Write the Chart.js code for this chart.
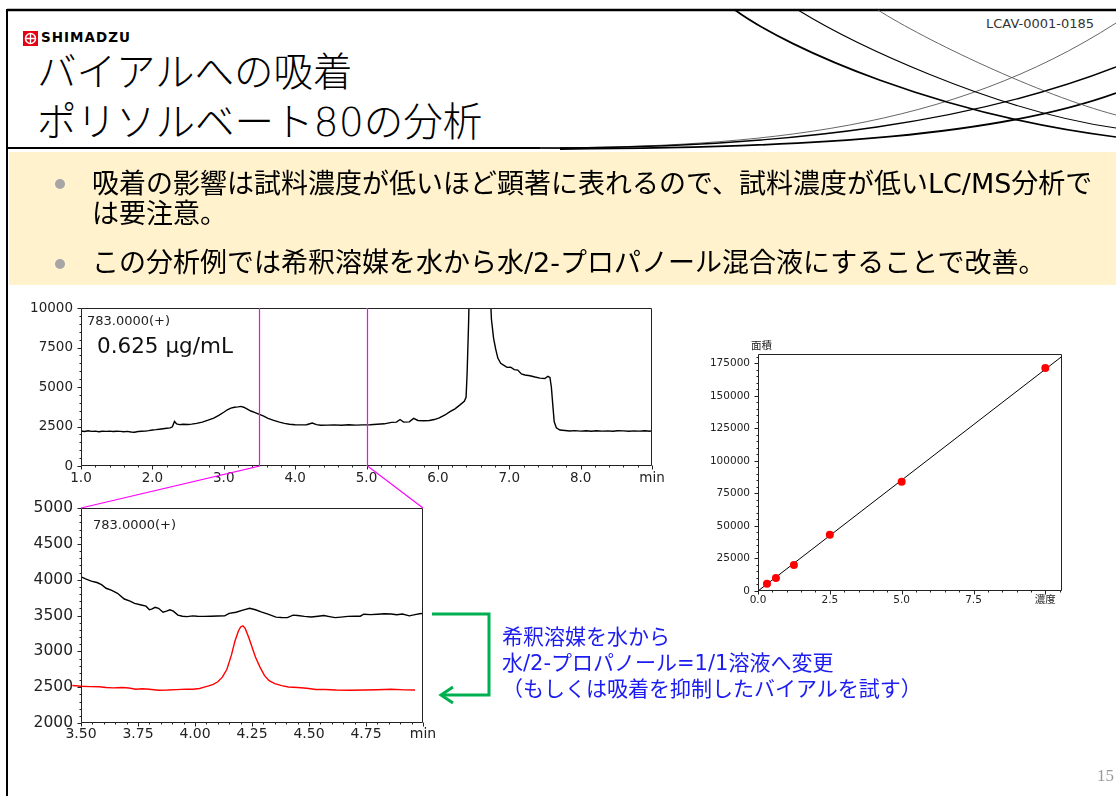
<!DOCTYPE html>
<html lang="ja">
<head>
<meta charset="utf-8">
<title>バイアルへの吸着 ポリソルベート80の分析</title>
<script src="https://cdn.jsdelivr.net/npm/chart.js@4.4.1/dist/chart.umd.min.js"></script>
<style>
  html, body { margin: 0; padding: 0; background: #fff; }
  body { position: relative; width: 1116px; height: 796px; overflow: hidden;
         font-family: "Noto Sans CJK JP", sans-serif; color: #000; }
  .t { position: absolute; white-space: nowrap; line-height: 1; }
  .lat { font-family: "DejaVu Sans", sans-serif; }
  .dv { font-family: "DejaVu Sans", sans-serif; }
  .box { position: absolute; }
  .box canvas { display: block; }
  #band { position: absolute; left: 9px; top: 152px; width: 1107px; height: 133px; background: #fff2cc; }
  #deco, #marks { position: absolute; left: 0; top: 0; }
  #guides { position: absolute; left: 0; top: 0; z-index: 4; pointer-events: none; }
  .txt { z-index: 6; }
</style>
</head>
<body>
<div id="band"></div>

<svg id="deco" width="1116" height="796">
  <g fill="none">
    <path d="M7 10 H1116" stroke="#000" stroke-width="2.5"/>
    <path d="M7 9 V796" stroke="#000" stroke-width="2"/>
    <path d="M7 148 H600" stroke="#000" stroke-width="2"/>
    <path d="M540 148 C760 147, 950 130, 1116 23" stroke="#555" stroke-width="0.9"/>
    <path d="M560 148 C800 147, 980 120, 1116 67" stroke="#000" stroke-width="1.4"/>
    <path d="M560 149 C820 148, 1000 135, 1116 93" stroke="#000" stroke-width="1.8"/>
    <path d="M735 10 C790 50, 940 115, 1116 137" stroke="#000" stroke-width="1.7"/>
    <path d="M798 10 C850 42, 990 110, 1116 128" stroke="#000" stroke-width="1.1"/>
    <path d="M878 10 C925 40, 1040 95, 1116 115" stroke="#555" stroke-width="0.9"/>
  </g>
</svg>

<svg class="box" style="left:23px;top:31px" width="15" height="15">
  <rect width="15" height="15" fill="#e60012"/>
  <circle cx="7.5" cy="7.5" r="5" fill="none" stroke="#fff" stroke-width="1.5"/>
  <path d="M7.5 2.5 V12.5 M2.5 7.5 H12.5" stroke="#fff" stroke-width="1.3"/>
</svg>
<div class="t dv" style="left:41px;top:31px;font-size:13.5px;font-weight:bold;letter-spacing:1px;">SHIMADZU</div>
<div class="t dv" style="left:986px;top:17px;font-size:13px;color:#333;">LCAV-0001-0185</div>

<div class="t" style="left:37px;top:49px;font-size:39.5px;font-weight:300;">バイアルへの吸着</div>
<div class="t" style="left:37px;top:99px;font-size:39.5px;font-weight:300;">ポリソルベート<span class="lat">80</span>の分析</div>

<svg id="marks" width="1116" height="796" style="z-index:3">
  <circle cx="60" cy="184" r="5" fill="#a6a6a6"/>
  <circle cx="60" cy="264" r="5" fill="#a6a6a6"/>
  <path d="M432 614 H489 V695 H443" stroke="#00b050" stroke-width="3" fill="none"/>
  <path d="M453 687 L441 695 L453 703" stroke="#00b050" stroke-width="3" fill="none"/>
</svg>

<div class="t txt" style="left:92px;top:168px;font-size:27px;">吸着の影響は試料濃度が低いほど顕著に表れるので、試料濃度が低い<span class="lat">LC/MS</span>分析で</div>
<div class="t txt" style="left:92px;top:198px;font-size:27px;">は要注意。</div>
<div class="t txt" style="left:92px;top:247px;font-size:27px;">この分析例では希釈溶媒を水から水<span class="lat">/2-</span>プロパノール混合液にすることで改善。</div>

<div class="box" style="left:21px;top:288px"><canvas id="fullRun" width="661" height="206"></canvas></div>
<div class="box" style="left:21px;top:488px"><canvas id="zoomRun" width="432" height="263"></canvas></div>
<div class="box" style="left:698px;top:334px"><canvas id="calib" width="394" height="281"></canvas></div>
<canvas id="guides" width="1116" height="796"></canvas>

<div class="t dv txt" style="left:87px;top:314px;font-size:13px;color:#222;">783.0000(+)</div>
<div class="t dv txt" style="left:97px;top:335px;font-size:21.5px;color:#111;">0.625 µg/mL</div>
<div class="t dv txt" style="left:93px;top:518px;font-size:13px;color:#222;">783.0000(+)</div>
<div class="t txt" style="left:751px;top:340px;font-size:10.5px;color:#222;">面積</div>

<div class="t txt" style="left:502px;top:625px;font-size:21px;color:#1c1cf0;">希釈溶媒を水から</div>
<div class="t txt" style="left:502px;top:651px;font-size:21px;color:#1c1cf0;">水<span class="lat">/2-</span>プロパノール<span class="lat">=1/1</span>溶液へ変更</div>
<div class="t txt" style="left:502px;top:677px;font-size:21px;color:#1c1cf0;">（もしくは吸着を抑制したバイアルを試す）</div>

<div class="t txt" style="left:1097px;top:767px;font-size:17px;color:#999;font-family:'Liberation Serif',serif;">15</div>

<script>
// m/z 783 chromatogram, 0.625 µg/mL, water as diluent (full run)
const runTime = [1.00,1.05,1.10,1.15,1.20,1.25,1.30,1.35,1.40,1.45,1.50,1.55,1.60,1.65,1.70,1.75,1.80,1.85,1.90,1.95,
  2.00,2.05,2.10,2.15,2.20,2.25,2.28,2.31,2.34,2.38,2.43,2.50,2.55,2.62,2.70,2.78,2.86,2.93,
  3.00,3.05,3.10,3.15,3.20,3.24,3.28,3.33,3.38,3.43,3.50,3.56,3.62,3.70,3.78,3.85,3.92,
  4.00,4.08,4.16,4.24,4.30,4.36,4.45,4.55,4.65,4.75,4.85,4.95,
  5.05,5.15,5.25,5.35,5.42,5.47,5.52,5.60,5.66,5.72,5.80,5.88,5.95,
  6.02,6.10,6.17,6.24,6.31,6.37,6.395,6.41,6.43,6.45,6.55,6.65,6.72,6.75,6.78,6.81,6.84,6.88,6.92,6.97,
  7.02,7.07,7.12,7.17,7.22,7.29,7.36,7.43,7.50,7.54,7.57,7.59,7.61,7.63,7.66,7.71,7.78,7.85,7.92,
  8.00,8.08,8.15,8.22,8.30,8.38,8.45,8.52,8.60,8.68,8.75,8.82,8.90,8.97,9.00];
const runIntensity = [2220,2180,2230,2190,2210,2170,2200,2190,2210,2180,2200,2190,2170,2190,2150,2140,2180,2200,2210,2240,
  2280,2300,2330,2360,2390,2410,2480,2820,2660,2620,2640,2630,2650,2700,2780,2900,3030,3200,
  3400,3560,3660,3720,3740,3770,3720,3600,3480,3390,3270,3150,3020,2890,2780,2700,2640,
  2610,2600,2610,2720,2620,2580,2590,2600,2580,2610,2590,2600,
  2610,2640,2670,2760,2780,2940,2780,2790,3010,2880,2860,2880,2940,
  3050,3230,3440,3620,3870,4100,4350,5900,9000,13000,30000,26000,12500,9300,8100,7400,6830,6500,6380,6240,
  6250,6100,6070,5830,5760,5710,5630,5560,5540,5680,5600,5000,3870,2800,2420,2280,2250,2220,2240,
  2210,2230,2200,2230,2210,2220,2200,2230,2220,2200,2220,2210,2230,2200,2240];
const runTicksX = [1, 2, 3, 4, 5, 6, 7, 8, 9];
const runLabelsX = ['1.0', '2.0', '3.0', '4.0', '5.0', '6.0', '7.0', '8.0', 'min'];
const runTicksY = [0, 2500, 5000, 7500, 10000];

// enlarged window of the run
const zoomWindow = [3.5, 5.0];

// diluent: water
const waterTime = [3.500,3.520,3.545,3.570,3.590,3.610,3.635,3.660,3.690,3.715,3.735,3.760,3.785,3.800,3.810,3.825,3.840,3.860,3.875,3.890,
  3.905,3.925,3.945,3.965,3.990,4.010,4.040,4.070,4.100,4.130,4.150,4.180,4.210,4.240,4.265,4.290,4.320,4.355,4.380,4.405,
  4.430,4.450,4.480,4.510,4.540,4.565,4.590,4.615,4.640,4.670,4.700,4.725,4.740,4.770,4.800,4.830,4.860,4.885,4.910,4.940,
  4.965,4.985,5.000];
const waterTrace = [4040,4010,3980,3960,3930,3880,3850,3810,3730,3700,3670,3650,3630,3580,3590,3615,3600,3545,3560,3580,
  3560,3505,3490,3485,3495,3490,3488,3490,3492,3495,3530,3545,3575,3600,3580,3550,3520,3478,3472,3470,
  3505,3500,3488,3480,3490,3500,3485,3470,3478,3488,3490,3490,3518,3512,3518,3525,3520,3510,3520,3495,
  3512,3525,3530];

// diluent: water / 2-propanol = 1/1
const ipaTime = [3.462,3.500,3.540,3.580,3.610,3.640,3.680,3.710,3.740,3.770,3.800,3.840,3.880,3.920,3.960,3.990,
  4.020,4.040,4.060,4.080,4.100,4.120,4.140,4.160,4.175,4.190,4.200,4.210,4.220,4.235,4.250,4.265,4.285,4.305,4.325,
  4.350,4.380,4.410,4.450,4.490,4.530,4.570,4.620,4.680,4.740,4.800,4.860,4.920,4.965];
const ipaTrace = [2523,2512,2508,2505,2495,2490,2496,2488,2472,2478,2470,2458,2460,2465,2472,2470,
  2482,2500,2518,2540,2575,2640,2750,2950,3140,3280,3340,3355,3320,3200,3060,2920,2780,2660,2590,
  2550,2522,2503,2495,2485,2468,2468,2460,2457,2460,2463,2470,2462,2460];
const zoomTicksX = [3.5, 3.75, 4.0, 4.25, 4.5, 4.75, 5.0];
const zoomLabelsX = ['3.50', '3.75', '4.00', '4.25', '4.50', '4.75', 'min'];
const zoomTicksY = [2000, 2500, 3000, 3500, 4000, 4500, 5000];

// calibration
const concLevels = [0.3125, 0.625, 1.25, 2.5, 5.0, 10.0];
const peakAreas = [5600, 10000, 20000, 43300, 84000, 171500];
const fitConc = [0, 10.6];
const fitArea = [0, 180800];
const calibTicksX = [0, 2.5, 5.0, 7.5, 10.0];
const calibLabelsX = ['0.0', '2.5', '5.0', '7.5', '濃度'];
const calibTicksY = [0, 25000, 50000, 75000, 100000, 125000, 150000, 175000];

Chart.defaults.font.family = "'DejaVu Sans', 'Noto Sans CJK JP', sans-serif";
Chart.defaults.color = '#222';

const toXY = (xs, ys) => xs.map((x, i) => ({ x, y: ys[i] }));

// box frame with major/minor tick marks outside the plot area
const frameTicks = {
  id: 'frameTicks',
  afterDraw(chart, _args, o) {
    const { ctx, chartArea: a } = chart;
    const xs = chart.scales.x, ys = chart.scales.y;
    const L = Math.round(a.left) + 0.5, R = Math.round(a.right) - 0.5;
    const T = Math.round(a.top) + 0.5, B = Math.round(a.bottom) - 0.5;
    const mx = xs.ticks.map(t => t.value), my = ys.ticks.map(t => t.value);
    const isMajor = (list, v, step) => list.some(m => Math.abs(m - v) < step * 1e-3);
    ctx.save();
    ctx.strokeStyle = o.color || '#222';
    ctx.lineWidth = 1;
    ctx.beginPath();
    ctx.rect(L, T, R - L, B - T);
    const nx = Math.floor((xs.max - xs.min) / o.xMinor + 1e-6);
    for (let i = 0; i <= nx; i++) {
      const v = xs.min + i * o.xMinor;
      const px = Math.round(xs.getPixelForValue(v)) + 0.5;
      const len = isMajor(mx, v, o.xMinor) ? o.major : o.minor;
      ctx.moveTo(px, B); ctx.lineTo(px, B + len);
    }
    const ny = Math.floor((ys.max - ys.min) / o.yMinor + 1e-6);
    for (let i = 0; i <= ny; i++) {
      const v = ys.min + i * o.yMinor;
      const py = Math.round(ys.getPixelForValue(v)) + 0.5;
      const len = isMajor(my, v, o.yMinor) ? o.major : o.minor;
      ctx.moveTo(L, py); ctx.lineTo(L - len, py);
    }
    ctx.stroke();
    ctx.restore();
  }
};

function axisX(min, max, values, labels, size, pad, height) {
  return {
    type: 'linear', min, max,
    grid: { display: false, drawTicks: false },
    border: { display: false },
    afterBuildTicks(s) { s.ticks = values.map(value => ({ value })); },
    ticks: { autoSkip: false, maxRotation: 0, padding: pad, font: { size }, color: '#222',
             callback: (v, i) => labels[i] },
    afterFit(s) { s.height = height; }
  };
}
function axisY(min, max, values, size, width) {
  return {
    type: 'linear', min, max,
    grid: { display: false, drawTicks: false },
    border: { display: false },
    afterBuildTicks(s) { s.ticks = values.map(value => ({ value })); },
    ticks: { autoSkip: false, padding: 8, font: { size }, color: '#222',
             callback: (v, i) => String(values[i]) },
    afterFit(s) { s.width = width; }
  };
}
function baseOptions(frame) {
  return {
    responsive: false, animation: false, devicePixelRatio: 1,
    layout: { padding: { top: 20, right: 30, bottom: 0, left: 0 } },
    plugins: { legend: { display: false }, tooltip: { enabled: false }, frameTicks: frame },
    elements: { point: { radius: 0 }, line: { tension: 0 } }
  };
}

const fullChart = new Chart(document.getElementById('fullRun'), {
  type: 'line',
  data: { datasets: [{ data: toXY(runTime, runIntensity), borderColor: '#000', borderWidth: 1.4 }] },
  options: Object.assign(baseOptions({ xMinor: 0.2, yMinor: 500, major: 4, minor: 2, color: '#222' }), {
    scales: {
      x: axisX(1, 9, runTicksX, runLabelsX, 13.5, 4, 28),
      y: axisY(0, 10000, runTicksY, 13.5, 60)
    }
  }),
  plugins: [frameTicks]
});

const zoomChart = new Chart(document.getElementById('zoomRun'), {
  type: 'line',
  data: { datasets: [
    { data: toXY(waterTime, waterTrace), borderColor: '#000', borderWidth: 1.4 },
    { data: toXY(ipaTime, ipaTrace), borderColor: '#ff0000', borderWidth: 1.4,
      clip: { left: 12, top: 0, right: 0, bottom: 0 } }
  ] },
  options: Object.assign(baseOptions({ xMinor: 0.05, yMinor: 100, major: 4, minor: 2, color: '#222' }), {
    scales: {
      x: axisX(zoomWindow[0], zoomWindow[1], zoomTicksX, zoomLabelsX, 14, 3, 28),
      y: axisY(2000, 5000, zoomTicksY, 15.5, 60)
    }
  }),
  plugins: [frameTicks]
});

const calibChart = new Chart(document.getElementById('calib'), {
  type: 'line',
  data: { datasets: [
    { data: toXY(concLevels, peakAreas), showLine: false, pointRadius: 4,
      pointBackgroundColor: '#ff0000', pointBorderWidth: 0 },
    { data: toXY(fitConc, fitArea), borderColor: '#000', borderWidth: 1, pointRadius: 0 }
  ] },
  options: Object.assign(baseOptions({ xMinor: 0.5, yMinor: 5000, major: 4, minor: 2, color: '#222' }), {
    scales: {
      x: axisX(0, 10.58, calibTicksX, calibLabelsX, 10.5, 3, 24),
      y: axisY(0, 182300, calibTicksY, 10.5, 60)
    }
  }),
  plugins: [frameTicks]
});

// magenta guides: window markers on the full run and connectors to the enlarged view
(function drawGuides() {
  const ctx = document.getElementById('guides').getContext('2d');
  const tb = fullChart.canvas.getBoundingClientRect();
  const bb = zoomChart.canvas.getBoundingClientRect();
  const ta = fullChart.chartArea, ba = zoomChart.chartArea;
  const xs = fullChart.scales.x;
  const x1 = Math.round(tb.left + xs.getPixelForValue(zoomWindow[0])) + 0.5;
  const x2 = Math.round(tb.left + xs.getPixelForValue(zoomWindow[1])) + 0.5;
  const yTop = tb.top + ta.top, yBot = tb.top + ta.bottom;
  ctx.strokeStyle = '#ff00ff';
  ctx.lineWidth = 1.2;
  ctx.beginPath();
  ctx.moveTo(x1, yTop); ctx.lineTo(x1, yBot); ctx.lineTo(bb.left + ba.left, bb.top + ba.top);
  ctx.moveTo(x2, yTop); ctx.lineTo(x2, yBot); ctx.lineTo(bb.left + ba.right, bb.top + ba.top);
  ctx.stroke();
})();
</script>
</body>
</html>
